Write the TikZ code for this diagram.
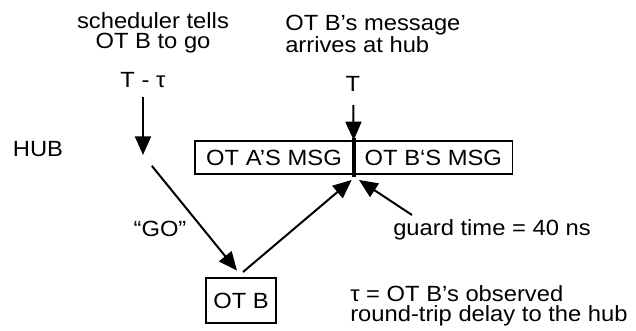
\documentclass[tikz,border=0pt]{standalone}
\usepackage{fontspec}
\setmainfont{Liberation Sans}[FakeStretch=1.08]
\usetikzlibrary{arrows.meta}
\begin{document}
\begin{tikzpicture}[x=0.75pt, y=-0.75pt, font=\fontsize{16.5}{15}\selectfont,
    lbl/.style={inner sep=0pt},
    arr/.style={line width=1.5pt, -{Triangle[length=14pt, width=12pt]}},
    msgbox/.style={draw, line width=1pt, minimum width=118.5pt, minimum height=24.75pt, inner sep=0pt}]
    \useasboundingbox (0,0) rectangle (636,331);

    % Labels along the top
    \node[lbl, align=center] (sched) at (153, 32.5) {scheduler tells\\OT B to go};
    \node[lbl, align=left, anchor=west] (arrive) at (285, 34) {OT B’s message\\arrives at hub};
    \node[lbl] (tminus) at (143, 80) {T - τ};
    \node[lbl] (tmark) at (353, 84) {T};
    \node[lbl] (hub) at (38, 149) {HUB};

    % Messages at the hub
    \node[msgbox] (msga) at (274, 157.5) {OT A’S MSG};
    \node[msgbox, anchor=west] (msgb) at (msga.east) {OT B‘S MSG};
    \draw[line width=3pt] ([yshift=2pt]msga.north east) -- ([yshift=-2pt]msga.south east);

    % OT B and the notes
    \node[draw, line width=1pt, minimum width=52.5pt, minimum height=33.75pt] (otb) at (241, 300.5) {OT B};
    \node[lbl] (go) at (160, 229) {“GO”};
    \node[lbl] (guard) at (492, 230) {guard time = 40 ns};
    \node[lbl, align=left, anchor=west] (tau) at (350, 306) {τ = OT B’s observed\\round-trip delay to the hub};

    \coordinate (hubgo) at (143, 155);
    \coordinate (guardtail) at (412, 215);

    % Arrows
    \draw[arr, shorten <=6.75pt] (tminus) -- (hubgo);
    \draw[arr, shorten <=10pt] (tmark) -- (msga.north east);
    \draw[arr, shorten <=10.5pt] (hubgo) -- ([xshift=-3pt, yshift=5pt]otb.north);
    \draw[arr] ([xshift=1.5pt, yshift=4pt]otb.north) -- ([xshift=-1.5pt, yshift=-4pt]msga.south east);
    \draw[arr] (guardtail) -- ([xshift=4pt, yshift=-4pt]msga.south east);
\end{tikzpicture}
\end{document}
